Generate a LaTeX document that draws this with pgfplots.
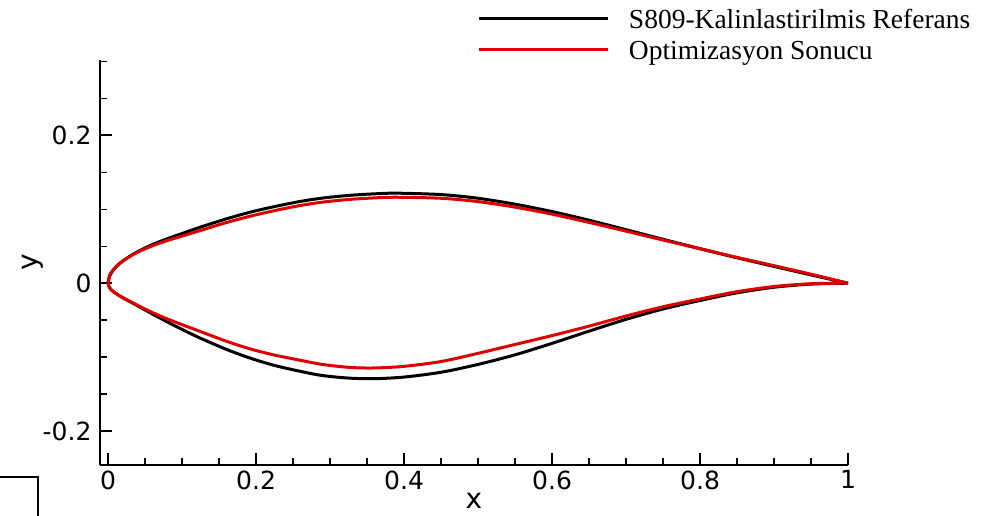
\documentclass[border=0pt]{standalone}
\usepackage{fontspec}
\setmainfont{Liberation Serif}
\newfontfamily\axisfont{DejaVu Sans}
\usepackage{pgfplots}
\pgfplotsset{compat=1.18}
\definecolor{optred}{RGB}{220,0,0}

\begin{document}
\begin{tikzpicture}
\path[use as bounding box] (0pt,0pt) rectangle (982pt,515pt);
% frame corner at the lower left
\draw[line width=2.4pt, line cap=rect] (0pt,38pt) -- (38pt,38pt) -- (38pt,-2pt);
\begin{axis}[
  at={(100pt,50pt)}, anchor=south west,
  scale only axis, width=748pt, height=405pt,
  xmin=-0.011, xmax=1.0, ymin=-0.246, ymax=0.302,
  axis x line=bottom, axis y line=left,
  axis line style={-, line width=2.3pt},
  tick align=inside,
  xtick={0,0.2,0.4,0.6,0.8,1},
  ytick={-0.2,0,0.2},
  minor xtick={0.05,0.1,0.15,0.25,0.3,0.35,0.45,0.5,0.55,0.65,0.7,0.75,0.85,0.9,0.95},
  minor ytick={-0.15,-0.1,-0.05,0.05,0.1,0.15,0.25,0.3},
  major tick length=12pt, minor tick length=7pt,
  major tick style={line width=2pt, black},
  minor tick style={line width=1.3pt, black},
  /pgf/number format/assume math mode=true,
  ticklabel style={font=\axisfont\fontsize{25}{25}\selectfont},
  xticklabel style={yshift=-2pt},
  yticklabel style={xshift=-5pt},
  xlabel={x}, ylabel={y},
  label style={font=\axisfont\fontsize{28}{28}\selectfont, inner sep=0pt, outer sep=0pt},
  xlabel style={at={(axis description cs:0.5,-0.088)}, anchor=center},
  ylabel style={at={(axis description cs:-0.0896,0.5)}, anchor=center, rotate=0},
  legend cell align=left,
  legend image code/.code={\draw[#1] (0pt,3pt) -- (129pt,3pt);},
  legend style={at={(axis description cs:0.5053,1.128)}, anchor=north west,
    draw=none, fill=none, inner sep=0pt, outer sep=0pt,
    font=\fontsize{27.5}{27.5}\selectfont, row sep=5pt,
    nodes={inner sep=0pt, text height=20pt, text depth=6pt},
    /tikz/every odd column/.style={column sep=19pt}},
  clip=false,
]
% thickened S809 reference section (upper side from the trailing edge, then lower side)
\addplot[black, line width=3pt, smooth, line join=round] coordinates {
 (1.0,0.0) (0.95,0.0112) (0.90,0.0227) (0.85,0.0344) (0.80,0.0467)
 (0.75,0.0594) (0.70,0.0724) (0.65,0.0852) (0.60,0.0969) (0.55,0.1069)
 (0.50,0.1149) (0.45,0.1199) (0.39,0.1218) (0.36,0.1209) (0.327,0.1189)
 (0.29,0.1152) (0.259,0.1105) (0.225,0.1037) (0.192,0.0961) (0.16,0.0871)
 (0.124,0.0756) (0.10,0.0672) (0.08,0.0602) (0.057,0.0510) (0.035,0.0400)
 (0.016,0.0270) (0.006,0.0165) (0.002,0.0095) (0.0,0.0)
 (0.002,-0.0060) (0.006,-0.0105) (0.016,-0.0175) (0.034,-0.0274) (0.055,-0.0390)
 (0.079,-0.0519) (0.10,-0.0626) (0.124,-0.0741) (0.16,-0.0896) (0.192,-0.1014)
 (0.225,-0.1113) (0.259,-0.1191) (0.29,-0.1250) (0.327,-0.1285) (0.36,-0.1292)
 (0.40,-0.1270) (0.45,-0.1205) (0.50,-0.1099) (0.55,-0.0969) (0.60,-0.0814)
 (0.65,-0.0649) (0.70,-0.0489) (0.75,-0.0349) (0.80,-0.0234) (0.85,-0.0130)
 (0.90,-0.0055) (0.95,-0.0012) (1.0,0.0)
};
\addlegendentry{S809-Kalinlastirilmis Referans}
% optimised section
\addplot[optred, line width=3pt, smooth, line join=round] coordinates {
 (1.0,0.0) (0.95,0.0122) (0.90,0.0237) (0.85,0.0349) (0.80,0.0467)
 (0.75,0.0584) (0.70,0.0704) (0.65,0.0822) (0.60,0.0934) (0.55,0.1029)
 (0.50,0.1104) (0.45,0.1149) (0.39,0.1163) (0.36,0.1154) (0.327,0.1134)
 (0.29,0.1097) (0.259,0.1050) (0.225,0.0982) (0.192,0.0906) (0.16,0.0821)
 (0.124,0.0711) (0.10,0.0637) (0.08,0.0577) (0.057,0.0495) (0.035,0.0395)
 (0.016,0.0272) (0.006,0.0170) (0.002,0.0105) (0.0,0.0)
 (0.002,-0.0060) (0.006,-0.0105) (0.016,-0.0175) (0.034,-0.0269) (0.055,-0.0375)
 (0.079,-0.0479) (0.10,-0.0561) (0.124,-0.0651) (0.16,-0.0786) (0.192,-0.0889)
 (0.225,-0.0973) (0.259,-0.1041) (0.29,-0.1100) (0.327,-0.1140) (0.36,-0.1147)
 (0.40,-0.1125) (0.45,-0.1060) (0.50,-0.0949) (0.55,-0.0829) (0.60,-0.0709)
 (0.65,-0.0581) (0.70,-0.0444) (0.75,-0.0319) (0.80,-0.0214) (0.85,-0.0115)
 (0.90,-0.0045) (0.95,-0.0007) (1.0,0.0)
};
\addlegendentry{Optimizasyon Sonucu}
\end{axis}
\end{tikzpicture}
\end{document}
